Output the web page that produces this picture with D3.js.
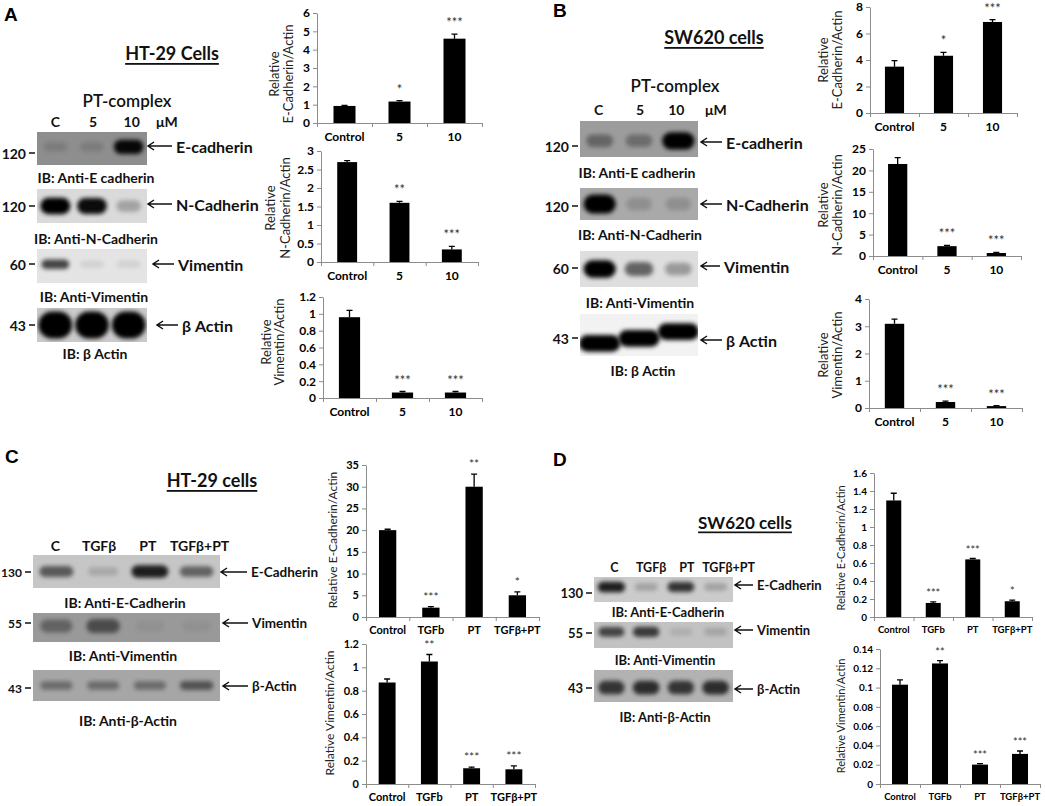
<!DOCTYPE html>
<html>
<head>
<meta charset="utf-8">
<script src="https://cdn.jsdelivr.net/npm/d3@7"></script>
<style>
  body { margin: 0; background: #fff; }
</style>
</head>
<body>
<svg id="fig" width="1045" height="806"></svg>
<script>
// ---- data ----
var doseCats = ["Control", "5", "10"];
var treatCats = ["Control", "TGFb", "PT", "TGFβ+PT"];
var doseLanes = ["C", "5", "10"];
var treatLanes = ["C", "TGFβ", "PT", "TGFβ+PT"];

// A: HT-29, PT-complex dose
var ecadHT = [0.93, 1.17, 4.6];     var ecadHTErr = [0.03, 0.05, 0.25];  var ecadHTSig = ["", "*", "***"];
var ncadHT = [2.7, 1.6, 0.34];      var ncadHTErr = [0.04, 0.04, 0.08];  var ncadHTSig = ["", "**", "***"];
var vimHT = [0.96, 0.065, 0.065];   var vimHTErr = [0.08, 0.012, 0.012]; var vimHTSig = ["", "***", "***"];
// B: SW620, PT-complex dose
var ecadSW = [3.5, 4.32, 6.87];     var ecadSWErr = [0.45, 0.25, 0.18];  var ecadSWSig = ["", "*", "***"];
var ncadSW = [21.5, 2.3, 0.7];      var ncadSWErr = [1.5, 0.2, 0.15];    var ncadSWSig = ["", "***", "***"];
var vimSW = [3.09, 0.22, 0.07];     var vimSWErr = [0.17, 0.03, 0.02];   var vimSWSig = ["", "***", "***"];
// C: HT-29, TGFβ / PT
var ecadHTtgf = [20, 2.15, 30, 5];        var ecadHTtgfErr = [0.2, 0.25, 2.9, 0.8];       var ecadHTtgfSig = ["", "***", "**", "*"];
var vimHTtgf = [0.87, 1.05, 0.135, 0.126]; var vimHTtgfErr = [0.03, 0.06, 0.01, 0.03];     var vimHTtgfSig = ["", "**", "***", "***"];
// D: SW620, TGFβ / PT
var ecadSWtgf = [1.295, 0.156, 0.64, 0.175]; var ecadSWtgfErr = [0.08, 0.012, 0.01, 0.012]; var ecadSWtgfSig = ["", "***", "***", "*"];
var vimSWtgf = [0.103, 0.125, 0.0201, 0.0312]; var vimSWtgfErr = [0.005, 0.003, 0.001, 0.003]; var vimSWtgfSig = ["", "**", "***", "***"];

// blot band intensities (0..1), one per lane
var bandA = [[0.12, 0.12, 0.95], [1, 0.95, 0.25], [0.7, 0.08, 0.08], [1, 1, 1]];
var bandB = [[0.35, 0.3, 1], [1, 0.15, 0.15], [1, 0.55, 0.3], [1, 1, 1]];
var bandC = [[0.55, 0.15, 0.85, 0.5], [0.35, 0.5, 0.05, 0.05], [0.35, 0.35, 0.35, 0.5]];
var bandD = [[0.85, 0.2, 0.75, 0.2], [0.65, 0.7, 0.1, 0.15], [0.7, 0.75, 0.7, 0.75]];

var FONT = "Lato, 'Open Sans', sans-serif";
var svg = d3.select("#fig");
svg.append("rect").attr("width", 1045).attr("height", 806).attr("fill", "#fff");
var defs = svg.append("defs");
defs.append("filter").attr("id", "blur")
    .attr("x", "-50%").attr("y", "-100%").attr("width", "200%").attr("height", "300%")
  .append("feGaussianBlur").attr("stdDeviation", 2.2);

// bar chart in Excel style
var barChart = function(o) {
  var n = o.cats.length;
  var x = d3.scaleBand().domain(o.cats).range([o.x0, o.x1]).paddingInner(o.pad).paddingOuter(o.pad / 2);
  var slot = d3.scaleLinear().domain([0, n]).range([o.x0, o.x1]);
  var y = d3.scaleLinear().domain([0, o.max]).range([o.y0, o.y1]);
  var ticks = d3.range(0, Math.round(o.max / o.step) + 1).map(function(i) { return +(i * o.step).toFixed(4); });
  var g = svg.append("g");

  var ya = g.append("g").attr("transform", "translate(" + o.x0 + ",0)")
    .call(d3.axisLeft(y).tickValues(ticks).tickSize(4).tickSizeOuter(0).tickPadding(3).tickFormat(d3.format("~g")));
  g.append("g").attr("transform", "translate(0," + o.y0 + ")")
    .call(d3.axisBottom(slot).tickValues(d3.range(n + 1)).tickSize(4).tickSizeOuter(0).tickFormat(""));
  var xl = g.append("g").attr("transform", "translate(0," + o.y0 + ")")
    .call(d3.axisBottom(x).tickSize(0).tickPadding(o.labPad));
  xl.select(".domain").remove();
  g.selectAll(".domain, .tick line").attr("stroke", "#8c8c8c");
  g.selectAll(".tick text").attr("font-family", FONT).attr("font-weight", "bold").attr("fill", "#000");
  ya.selectAll("text").attr("font-size", o.fs);
  xl.selectAll("text").attr("font-size", o.cfs);

  var cx = function(d, i) { return x(o.cats[i]) + x.bandwidth() / 2; };
  g.selectAll("rect.bar").data(o.vals).join("rect").attr("class", "bar")
    .attr("x", function(d, i) { return x(o.cats[i]); })
    .attr("y", function(d) { return y(d); })
    .attr("width", x.bandwidth())
    .attr("height", function(d) { return o.y0 - y(d); })
    .attr("fill", "#000");
  g.selectAll("path.err").data(o.vals).join("path").attr("class", "err")
    .attr("d", function(d, i) {
      var c = cx(d, i), t = y(d + o.err[i]);
      return "M" + c + "," + y(d) + "V" + t + "M" + (c - 3) + "," + t + "H" + (c + 3);
    })
    .attr("stroke", "#000").attr("stroke-width", 1.3).attr("fill", "none");
  g.selectAll("text.sig").data(o.vals).join("text").attr("class", "sig")
    .attr("x", cx)
    .attr("y", function(d, i) { return y(d + o.err[i]) + 5 - o.fs; })
    .attr("text-anchor", "middle")
    .attr("font-family", FONT).attr("font-size", o.fs + 1).attr("fill", "#333")
    .text(function(d, i) { return o.sig[i]; });

  o.titles.forEach(function(t, i) {
    g.append("text")
      .attr("transform", "translate(" + o.tx[i] + "," + o.ty + ") rotate(-90)")
      .attr("text-anchor", "middle").attr("dominant-baseline", "central")
      .attr("font-family", FONT).attr("font-size", o.tfs).attr("fill", "#222")
      .text(t);
  });
};

// western blot strip
var blot = function(p, b, bands, k) {
  var lx = d3.scaleBand().domain(p.lanes).range(p.range);
  var bw = lx.bandwidth();
  var g = svg.append("g");
  var id = "clip" + p.id + k;
  defs.append("clipPath").attr("id", id).append("rect")
    .attr("x", p.range[0]).attr("y", b.y).attr("width", p.range[1] - p.range[0]).attr("height", b.h);
  var inner = g.append("g").attr("clip-path", "url(#" + id + ")");
  inner.append("rect").attr("x", p.range[0]).attr("y", b.y)
    .attr("width", p.range[1] - p.range[0]).attr("height", b.h).attr("fill", b.bg);
  var bandW = function(d) { return bw * (b.bw || 0.82) * (0.75 + 0.25 * d); };
  var bandH = function(d) { return b.h * b.bh * 2 * (0.6 + 0.4 * d); };
  inner.selectAll("rect.band").data(bands).join("rect").attr("class", "band")
    .attr("x", function(d, j) { return lx(p.lanes[j]) + bw / 2 - bandW(d) / 2; })
    .attr("y", function(d, j) { return b.y + b.h * (Array.isArray(b.by) ? b.by[j] : b.by) - bandH(d) / 2; })
    .attr("width", bandW).attr("height", bandH)
    .attr("rx", function(d) { return bandH(d) / 2; })
    .attr("fill", "#000").attr("opacity", function(d) { return d; })
    .attr("filter", "url(#blur)");

  var t = function(sel) { return sel.attr("font-family", FONT).attr("font-weight", "bold").attr("fill", "#111"); };
  t(g.append("text")).attr("x", p.range[0] - 11).attr("y", b.mwY).attr("text-anchor", "end")
    .attr("dominant-baseline", "central").attr("font-size", p.fs).text(b.mw);
  g.append("line").attr("x1", p.range[0] - 8).attr("x2", p.range[0] - 2)
    .attr("y1", b.mwY).attr("y2", b.mwY).attr("stroke", "#111").attr("stroke-width", 1.5);
  g.append("path")
    .attr("d", "M" + b.ax[1] + "," + b.ay + "H" + b.ax[0] + "M" + (b.ax[0] + 6) + "," + (b.ay - 4) +
      "L" + b.ax[0] + "," + b.ay + "L" + (b.ax[0] + 6) + "," + (b.ay + 4))
    .attr("stroke", "#111").attr("stroke-width", 1.5).attr("fill", "none");
  t(g.append("text")).attr("x", b.ax[1] + 4).attr("y", b.ay).attr("dominant-baseline", "central")
    .attr("font-size", p.nfs).text(b.name);
  t(g.append("text")).attr("x", b.ibX).attr("y", b.ibY).attr("text-anchor", "middle")
    .attr("dominant-baseline", "central").attr("font-size", p.ifs).text(b.ib);
};

var panel = function(p) {
  var lx = d3.scaleBand().domain(p.lanes).range(p.range);
  var t = function(sel) { return sel.attr("font-family", FONT).attr("font-weight", "bold").attr("fill", "#111"); };
  svg.append("text").attr("x", p.letter[0]).attr("y", p.letter[1])
    .attr("font-family", "'Liberation Sans', Arial, sans-serif").attr("font-weight", "bold")
    .attr("font-size", 19).attr("dominant-baseline", "central").text(p.id);
  t(svg.append("text")).attr("x", p.title[0]).attr("y", p.title[1]).attr("text-anchor", "middle")
    .attr("dominant-baseline", "central").attr("font-size", p.tfs)
    .style("text-decoration", "underline").text(p.cell);
  if (p.sub) {
    t(svg.append("text")).attr("x", p.sub[0]).attr("y", p.sub[1]).attr("text-anchor", "middle")
      .attr("dominant-baseline", "central").attr("font-size", 17).attr("font-weight", 600).text("PT-complex");
  }
  svg.selectAll(null).data(p.lanes).join("text")
    .attr("x", function(d, i) { return lx(d) + lx.bandwidth() / 2 + p.labShift[i]; })
    .attr("y", p.laneY).attr("text-anchor", "middle").attr("dominant-baseline", "central")
    .attr("font-family", FONT).attr("font-weight", "bold").attr("fill", "#111").attr("font-size", p.lfs)
    .text(function(d) { return d; });
  if (p.unit) {
    t(svg.append("text")).attr("x", p.unit).attr("y", p.laneY).attr("dominant-baseline", "central")
      .attr("font-size", p.lfs).text("μM");
  }
  p.blots.forEach(function(b, k) { blot(p, b, p.bands[k], k); });
};

// ---- panel A ----
panel({
  id: "A", letter: [4, 14], cell: "HT-29 Cells", title: [172, 53], tfs: 18, sub: [127, 100],
  lanes: doseLanes, range: [37, 147], laneY: 121, labShift: [0, 1, 3], lfs: 14, unit: 156,
  fs: 14, nfs: 16, ifs: 14, bands: bandA,
  blots: [
    {y: 132, h: 33, bg: "#8e8e8e", by: 0.45, bh: 0.22, mw: "120", mwY: 153, ax: [148, 172], ay: 146, name: "E-cadherin", ib: "IB: Anti-E cadherin", ibX: 96, ibY: 177},
    {y: 189, h: 34, bg: "#dadada", by: 0.5, bh: 0.24, mw: "120", mwY: 206, ax: [148, 172], ay: 204, name: "N-Cadherin", ib: "IB: Anti-N-Cadherin", ibX: 96, ibY: 238},
    {y: 249, h: 34, bg: "#e4e4e4", by: 0.45, bh: 0.16, mw: "60", mwY: 264, ax: [153, 174], ay: 264, name: "Vimentin", ib: "IB: Anti-Vimentin", ibX: 94, ibY: 296},
    {y: 308, h: 34, bg: "#cacaca", by: 0.5, bh: 0.4, bw: 0.92, mw: "43", mwY: 325, ax: [157, 178], ay: 325, name: "β Actin", ib: "IB: β Actin", ibX: 95, ibY: 353}
  ]
});
// ---- panel B ----
panel({
  id: "B", letter: [553, 10], cell: "SW620 cells", title: [714, 37], tfs: 18, sub: [675, 85],
  lanes: doseLanes, range: [580, 698], laneY: 109, labShift: [-1, 1, -2], lfs: 14, unit: 705,
  fs: 14, nfs: 16, ifs: 14, bands: bandB,
  blots: [
    {y: 121, h: 36, bg: "#9c9c9c", by: 0.55, bh: 0.24, mw: "120", mwY: 146, ax: [701, 722], ay: 142, name: "E-cadherin", ib: "IB: Anti-E cadherin", ibX: 637, ibY: 172},
    {y: 188, h: 32, bg: "#a9a9a9", by: 0.5, bh: 0.3, mw: "120", mwY: 206, ax: [701, 722], ay: 204, name: "N-Cadherin", ib: "IB: Anti-N-Cadherin", ibX: 640, ibY: 234},
    {y: 251, h: 36, bg: "#dedede", by: 0.5, bh: 0.24, mw: "60", mwY: 268, ax: [701, 720], ay: 266, name: "Vimentin", ib: "IB: Anti-Vimentin", ibX: 640, ibY: 302},
    {y: 314, h: 42, bg: "#f2f2f2", by: [0.7, 0.58, 0.42], bh: 0.2, bw: 1.05, mw: "43", mwY: 338, ax: [701, 722], ay: 340, name: "β Actin", ib: "IB: β Actin", ibX: 643, ibY: 370}
  ]
});
// ---- panel C ----
panel({
  id: "C", letter: [5, 456], cell: "HT-29 cells", title: [212, 480], tfs: 18,
  lanes: treatLanes, range: [33, 220], laneY: 545, labShift: [-1, -4, -2, 3], lfs: 14,
  fs: 12, nfs: 13.5, ifs: 14, bands: bandC,
  blots: [
    {y: 555, h: 33, bg: "#c6c6c6", by: 0.5, bh: 0.2, mw: "130", mwY: 572, ax: [221, 247], ay: 572, name: "E-Cadherin", ib: "IB: Anti-E-Cadherin", ibX: 125, ibY: 602},
    {y: 613, h: 29, bg: "#999999", by: 0.45, bh: 0.3, mw: "55", mwY: 623, ax: [223, 248], ay: 623, name: "Vimentin", ib: "IB: Anti-Vimentin", ibX: 123, ibY: 655},
    {y: 670, h: 31, bg: "#a6a6a6", by: 0.5, bh: 0.18, mw: "43", mwY: 688, ax: [223, 248], ay: 686, name: "β-Actin", ib: "IB: Anti-β-Actin", ibX: 128, ibY: 720}
  ]
});
// ---- panel D ----
panel({
  id: "D", letter: [553, 459], cell: "SW620 cells", title: [745, 522], tfs: 17,
  lanes: treatLanes, range: [594, 733], laneY: 567, labShift: [3, 5, 6, 13], lfs: 12.5,
  fs: 13, nfs: 13, ifs: 13, bands: bandD,
  blots: [
    {y: 577, h: 25, bg: "#cbcbcb", by: 0.4, bh: 0.22, mw: "130", mwY: 593, ax: [735, 753], ay: 585, name: "E-Cadherin", ib: "IB: Anti-E-Cadherin", ibX: 668, ibY: 612},
    {y: 622, h: 26, bg: "#c2c2c2", by: 0.38, bh: 0.22, mw: "55", mwY: 633, ax: [735, 753], ay: 630, name: "Vimentin", ib: "IB: Anti-Vimentin", ibX: 665, ibY: 660},
    {y: 670, h: 32, bg: "#b2b2b2", by: 0.55, bh: 0.24, mw: "43", mwY: 688, ax: [735, 753], ay: 689, name: "β-Actin", ib: "IB: Anti-β-Actin", ibX: 665, ibY: 717}
  ]
});

// ---- bar charts ----
barChart({cats: doseCats, vals: ecadHT, err: ecadHTErr, sig: ecadHTSig, x0: 317, x1: 482, y0: 123, y1: 13, max: 6, step: 1, pad: 0.6,
  fs: 12, cfs: 12, labPad: 9, titles: ["Relative", "E-Cadherin/Actin"], tx: [274, 288], ty: 74, tfs: 13});
barChart({cats: doseCats, vals: ncadHT, err: ncadHTErr, sig: ncadHTSig, x0: 321, x1: 478, y0: 262, y1: 151, max: 3, step: 0.5, pad: 0.62,
  fs: 12, cfs: 12, labPad: 9, titles: ["Relative", "N-Cadherin/Actin"], tx: [270, 285], ty: 208, tfs: 13});
barChart({cats: doseCats, vals: vimHT, err: vimHTErr, sig: vimHTSig, x0: 323, x1: 482, y0: 398, y1: 297, max: 1.2, step: 0.2, pad: 0.6,
  fs: 12, cfs: 12, labPad: 9, titles: ["Relative", "Vimentin/Actin"], tx: [266, 279], ty: 342, tfs: 13});

barChart({cats: doseCats, vals: ecadSW, err: ecadSWErr, sig: ecadSWSig, x0: 870, x1: 1017, y0: 113, y1: 7, max: 8, step: 2, pad: 0.61,
  fs: 12, cfs: 12, labPad: 9, titles: ["Relative", "E-Cadherin/Actin"], tx: [823, 837], ty: 60, tfs: 13});
barChart({cats: doseCats, vals: ncadSW, err: ncadSWErr, sig: ncadSWSig, x0: 873, x1: 1021, y0: 256, y1: 149, max: 25, step: 5, pad: 0.61,
  fs: 12, cfs: 12, labPad: 9, titles: ["Relative", "N-Cadherin/Actin"], tx: [823, 837], ty: 205, tfs: 13});
barChart({cats: doseCats, vals: vimSW, err: vimSWErr, sig: vimSWSig, x0: 869, x1: 1022, y0: 408, y1: 299, max: 4, step: 1, pad: 0.62,
  fs: 12, cfs: 12, labPad: 9, titles: ["Relative", "Vimentin/Actin"], tx: [823, 837], ty: 355, tfs: 13});

barChart({cats: treatCats, vals: ecadHTtgf, err: ecadHTtgfErr, sig: ecadHTtgfSig, x0: 366, x1: 539, y0: 617, y1: 465, max: 35, step: 5, pad: 0.6,
  fs: 11, cfs: 11, labPad: 9, titles: ["Relative E-Cadherin/Actin"], tx: [332], ty: 540, tfs: 12});
barChart({cats: treatCats, vals: vimHTtgf, err: vimHTtgfErr, sig: vimHTtgfSig, x0: 366, x1: 535, y0: 784, y1: 644, max: 1.2, step: 0.2, pad: 0.6,
  fs: 11, cfs: 11, labPad: 9, titles: ["Relative Vimentin/Actin"], tx: [329], ty: 713, tfs: 12});

barChart({cats: treatCats, vals: ecadSWtgf, err: ecadSWtgfErr, sig: ecadSWtgfSig, x0: 874, x1: 1032, y0: 617, y1: 473, max: 1.6, step: 0.2, pad: 0.62,
  fs: 10, cfs: 9.5, labPad: 9, titles: ["Relative E-Cadherin/Actin"], tx: [840], ty: 548, tfs: 11});
barChart({cats: treatCats, vals: vimSWtgf, err: vimSWtgfErr, sig: vimSWtgfSig, x0: 880, x1: 1040, y0: 784, y1: 649, max: 0.14, step: 0.02, pad: 0.6,
  fs: 10, cfs: 9.5, labPad: 9, titles: ["Relative Vimentin/Actin"], tx: [840], ty: 716, tfs: 11});
</script>
</body>
</html>
